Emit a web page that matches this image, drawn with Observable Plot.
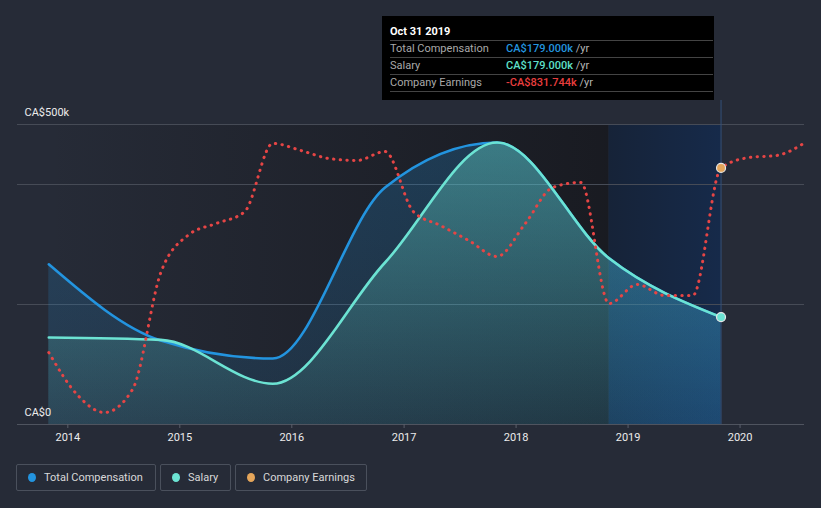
<!DOCTYPE html>
<html><head><meta charset="utf-8">
<script src="https://cdn.jsdelivr.net/npm/d3@7"></script>
<script src="https://cdn.jsdelivr.net/npm/@observablehq/plot@0.6"></script>
<style>
html,body{margin:0;padding:0;background:#262b37;width:821px;height:508px;overflow:hidden;font-family:Roboto,"Noto Sans",sans-serif;}
#wrap{position:relative;width:821px;height:508px;}
#chart{position:absolute;left:0;top:0;}
#tooltip{position:absolute;left:382px;top:16px;width:332px;height:84px;background:#000;}
.tt-title{position:absolute;left:8px;top:8px;font-weight:700;font-size:11px;color:#fff;line-height:15px;}
.tt-rows{position:absolute;left:8px;top:24px;width:323px;border-top:1px solid #444;}
.tt-row{height:16px;line-height:16px;border-bottom:1px solid #444;position:relative;font-size:11px;}
.tt-label{position:absolute;left:0;color:#a9a9a9;}
.tt-value{position:absolute;left:116px;font-weight:500;}
.tt-unit{color:#b5b5b5;font-weight:400;}
#legend{position:absolute;left:16px;top:464px;display:flex;gap:4px;}
.lg{box-sizing:border-box;height:27px;border:1px solid #4a505c;border-radius:2px;position:relative;color:#d9d9d9;font-size:11px;line-height:25px;}
.lg .dot{position:absolute;left:11px;top:8px;width:8px;height:9px;border-radius:50%;}
.lg .txt{position:absolute;left:27px;white-space:nowrap;}
</style></head><body>
<div id="wrap">
  <svg width="0" height="0" style="position:absolute">
    <defs>
      <linearGradient id="histGrad" x1="0" x2="1" y1="0" y2="0">
        <stop offset="0" stop-color="rgb(18,18,22)" stop-opacity="0"/>
        <stop offset="1" stop-color="rgb(18,18,22)" stop-opacity="0.65"/>
      </linearGradient>
      <linearGradient id="lastGrad" x1="0" x2="1" y1="0" y2="0">
        <stop offset="0" stop-color="rgb(22,35,56)"/>
        <stop offset="1" stop-color="rgb(22,42,74)"/>
      </linearGradient>
      <linearGradient id="totalGrad" x1="0" x2="0" y1="0" y2="1">
        <stop offset="0" stop-color="rgb(35,148,223)" stop-opacity="0.24"/>
        <stop offset="1" stop-color="rgb(35,148,223)" stop-opacity="0.12"/>
      </linearGradient>
      <linearGradient id="salGrad" x1="0" x2="0" y1="0" y2="1">
        <stop offset="0" stop-color="rgb(108,229,214)" stop-opacity="0.38"/>
        <stop offset="1" stop-color="rgb(108,229,214)" stop-opacity="0.08"/>
      </linearGradient>
      <linearGradient id="tintGrad" gradientUnits="userSpaceOnUse" x1="0" x2="821" y1="0" y2="0">
        <stop id="tintA" offset="0.74" stop-color="rgb(25,85,150)" stop-opacity="0"/>
        <stop id="tintB" offset="0.74" stop-color="rgb(25,85,150)" stop-opacity="0.18"/>
        <stop offset="1" stop-color="rgb(25,85,150)" stop-opacity="0.3"/>
      </linearGradient>
    </defs>
  </svg>
  <div id="chart"></div>
  <div id="tooltip"></div>
  <div id="legend"></div>
</div>
<script>
// ---- data (CA$ thousands) ----
const compDates = ["2013-10-31","2014-10-31","2015-10-31","2016-10-31","2017-10-31","2018-10-31","2019-10-31"];
const totalComp = [267, 140, 110, 395, 470, 277, 179];
const salary    = [145, 141, 68, 270, 470, 277, 179];

const earnDates = ["2013-10-31","2014-01-31","2014-04-30","2014-07-31","2014-10-31","2015-01-31","2015-04-30","2015-07-31",
  "2015-10-31","2016-01-31","2016-04-30","2016-07-31","2016-10-31","2017-01-31","2017-04-30","2017-07-31",
  "2017-10-31","2018-01-31","2018-04-30","2018-07-31","2018-10-31","2019-01-31","2019-04-30","2019-07-31",
  "2019-10-31","2020-01-31","2020-04-30","2020-07-31"];
const earnings = [-1816, -2040, -2136, -2013, -1390, -1187, -1128, -1066,
  -701, -739, -781, -792, -744, -1064, -1139, -1219,
  -1304, -1128, -936, -909, -1555, -1453, -1512, -1512,
  -831.744, -776, -765, -696];

const yearTicks = ["2014","2015","2016","2017","2018","2019","2020"];
const yLabelValues = [0, 500];
const gridValues = [200, 400, 500];
const seriesNames = ["Total Compensation", "Salary", "Company Earnings"];
const seriesColors = ["#2394df", "#6ce3d3", "#e4a55a"];
const tooltipDate = "Oct 31 2019";

// ---- build ----
const parse = d3.utcParse("%Y-%m-%d");
const earnToAxis = d3.scaleLinear().domain([-2200, -600]).range([0, 500]); // hidden secondary axis
const comp = compDates.map((d, i) => ({date: parse(d), total: totalComp[i], salary: salary[i]}));
const earn = earnDates.map((d, i) => ({date: parse(d), value: earnings[i], y: earnToAxis(earnings[i])}));
const lastComp = comp[comp.length - 1];
const lastEarn = earn.find(e => +e.date === +lastComp.date);
const histBand = [{start: comp[0].date, end: comp[comp.length - 2].date}];
const lastBand = [{start: comp[comp.length - 2].date, end: lastComp.date}];
const fmtK = v => (v < 0 ? "-" : "") + "CA$" + Math.abs(v).toFixed(3) + "k";

const chart = Plot.plot({
  width: 821, height: 455,
  marginTop: 124, marginBottom: 31, marginLeft: 17, marginRight: 17,
  style: {background: "transparent", fontFamily: "Roboto, sans-serif", fontSize: "11px", color: "#e8e8e8", overflow: "visible"},
  x: {type: "utc", domain: [parse("2013-07-21"), parse("2020-07-29")]},
  y: {domain: [0, 500], axis: null},
  marks: [
    Plot.rect(histBand, {x1: "start", x2: "end", y1: 0, y2: 500, fill: "url(#histGrad)"}),
    Plot.rect(lastBand, {x1: "start", x2: "end", y1: 0, y2: 500, fill: "url(#lastGrad)"}),
    Plot.ruleY(gridValues, {stroke: "#464b56", strokeWidth: 1}),
    Plot.areaY(comp, {x: "date", y: "total", curve: "monotone-x", fill: "url(#totalGrad)"}),
    Plot.areaY(comp, {x: "date", y: "salary", curve: "monotone-x", fill: "url(#salGrad)"}),
    Plot.areaY(comp, {x: "date", y: "salary", curve: "monotone-x", fill: "url(#tintGrad)"}),
    Plot.ruleY([0], {stroke: "#4f545f", strokeWidth: 1.2}),
    Plot.axisX({ticks: yearTicks.map(y => parse(y + "-01-01")), tickFormat: d3.utcFormat("%Y"),
      tickSize: 4, tickPadding: 5, stroke: "#5a5f6a", fill: "#ececec", fontSize: 11}),
    Plot.ruleX([lastComp], {x: "date", y1: 0, y2: 540, stroke: "#33507a", strokeWidth: 1}),
    Plot.line(comp, {x: "date", y: "total", curve: "monotone-x", stroke: "#2394df", strokeWidth: 2.6}),
    Plot.line(comp, {x: "date", y: "salary", curve: "monotone-x", stroke: "#6ce3d3", strokeWidth: 2.6}),
    Plot.line(earn, {x: "date", y: "y", curve: "monotone-x", stroke: "#e64545", strokeWidth: 3,
      strokeLinecap: "round", strokeDasharray: "0.4,6.3"}),
    Plot.dot([lastComp], {x: "date", y: "salary", r: 4.5, fill: "#6ce3d3", stroke: "#e6e6e6", strokeWidth: 1.2}),
    Plot.dot([lastEarn], {x: "date", y: "y", r: 4.5, fill: "#e4a55a", stroke: "#e6e6e6", strokeWidth: 1.2}),
    Plot.text(yLabelValues, {y: d => d, frameAnchor: "left", text: d => d === 0 ? "CA$0" : `CA$${d}k`,
      textAnchor: "start", dx: 7, dy: -12.5, fill: "#ececec", fontSize: 11})
  ]
});
document.getElementById("chart").appendChild(chart);

// tint step placed at the last-year band start via the x scale
const xs = chart.scale("x");
const off = xs.apply(lastBand[0].start) / 821;
document.getElementById("tintA").setAttribute("offset", off);
document.getElementById("tintB").setAttribute("offset", off);

// tooltip
const tt = document.getElementById("tooltip");
const rows = [
  [seriesNames[0], fmtK(lastComp.total), "#2394df"],
  [seriesNames[1], fmtK(lastComp.salary), "#5fe0cb"],
  [seriesNames[2], fmtK(lastEarn.value), "#e83e3e"]
];
tt.innerHTML = `<div class="tt-title">${tooltipDate}</div><div class="tt-rows">` +
  rows.map(r => `<div class="tt-row"><span class="tt-label">${r[0]}</span><span class="tt-value" style="color:${r[2]}">${r[1]} <span class="tt-unit">/yr</span></span></div>`).join("") +
  `</div>`;

// legend
const widths = [140, 71, 132];
document.getElementById("legend").innerHTML = seriesNames.map((n, i) =>
  `<div class="lg" style="width:${widths[i]}px"><span class="dot" style="background:${seriesColors[i]}"></span><span class="txt">${n}</span></div>`).join("");
</script>
</body></html>
